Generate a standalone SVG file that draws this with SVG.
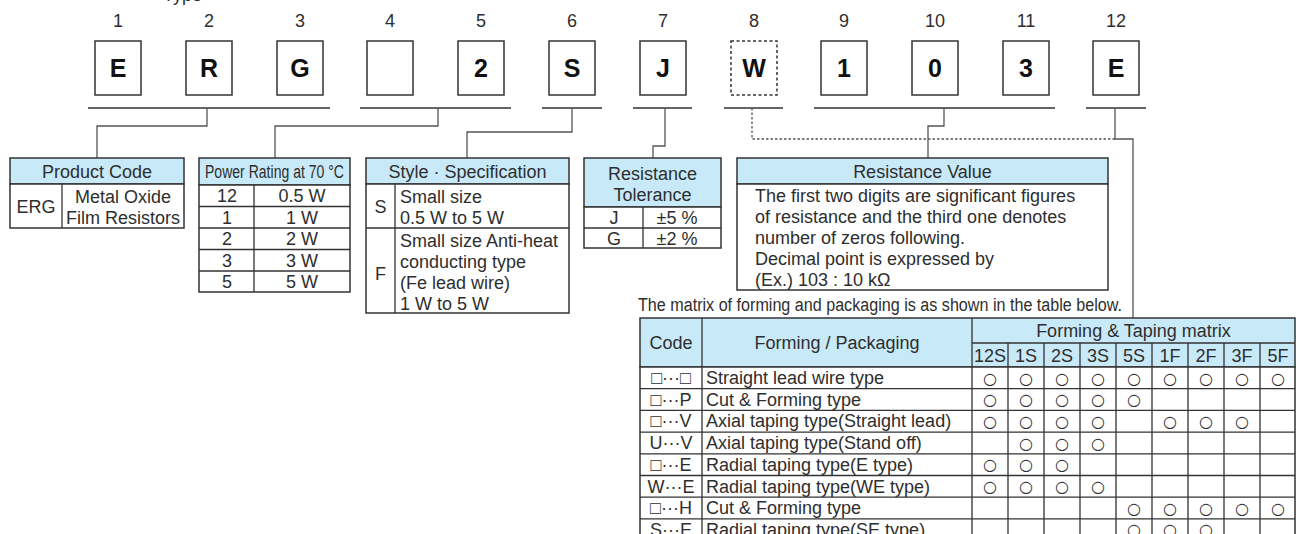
<svg xmlns="http://www.w3.org/2000/svg" width="1296" height="534" viewBox="0 0 1296 534">
<style>
text{font-family:"Liberation Sans",Arial,sans-serif;font-size:18px;fill:#2e2e2e}
.num{text-anchor:middle}
.big{font-weight:bold;font-size:25px;fill:#111;text-anchor:middle}
.box{fill:#fff;stroke:#333;stroke-width:1.5}
.dash{fill:#fff;stroke:#333;stroke-width:1.5;stroke-dasharray:3 2.5}
.hdr{fill:#c8e9f8;stroke:#333;stroke-width:1.5}
.cell{fill:#fff;stroke:#333;stroke-width:1.5}
.ln{fill:none;stroke:#333;stroke-width:1.3}
.con{fill:none;stroke:#555;stroke-width:1.3}
.cond{fill:none;stroke:#555;stroke-width:1.3;stroke-dasharray:2.5 2}
.c{text-anchor:middle}
#marks text{font-family:"DejaVu Sans",sans-serif;font-size:16px;text-anchor:middle}
</style>
<text x="163" y="1">Type</text>
<g id="digits">
<text class="num" x="118" y="27">1</text>
<text class="num" x="209" y="27">2</text>
<text class="num" x="300" y="27">3</text>
<text class="num" x="390" y="27">4</text>
<text class="num" x="481" y="27">5</text>
<text class="num" x="572" y="27">6</text>
<text class="num" x="663" y="27">7</text>
<text class="num" x="754" y="27">8</text>
<text class="num" x="844" y="27">9</text>
<text class="num" x="935" y="27">10</text>
<text class="num" x="1026" y="27">11</text>
<text class="num" x="1116" y="27">12</text>
</g>
<g id="char1"><rect class="box" x="95" y="41" width="46" height="54"/><text class="big" x="118" y="77">E</text></g>
<g id="char2"><rect class="box" x="186" y="41" width="46" height="54"/><text class="big" x="209" y="77">R</text></g>
<g id="char3"><rect class="box" x="277" y="41" width="46" height="54"/><text class="big" x="300" y="77">G</text></g>
<g id="char4"><rect class="box" x="367" y="41" width="46" height="54"/></g>
<g id="char5"><rect class="box" x="458" y="41" width="46" height="54"/><text class="big" x="481" y="77">2</text></g>
<g id="char6"><rect class="box" x="549" y="41" width="46" height="54"/><text class="big" x="572" y="77">S</text></g>
<g id="char7"><rect class="box" x="640" y="41" width="46" height="54"/><text class="big" x="663" y="77">J</text></g>
<g id="char8"><rect class="dash" x="731" y="41" width="46" height="54"/><text class="big" x="754" y="77">W</text></g>
<g id="char9"><rect class="box" x="821" y="41" width="46" height="54"/><text class="big" x="844" y="77">1</text></g>
<g id="char10"><rect class="box" x="912" y="41" width="46" height="54"/><text class="big" x="935" y="77">0</text></g>
<g id="char11"><rect class="box" x="1003" y="41" width="46" height="54"/><text class="big" x="1026" y="77">3</text></g>
<g id="char12"><rect class="box" x="1093" y="41" width="46" height="54"/><text class="big" x="1116" y="77">E</text></g>

<g id="connectors">
<path class="ln" d="M88,108H330M360,108H511M542,108H602M633,108H692M724,108H783M814,108H1055M1086,108H1146"/>
<path class="con" d="M207,108V126H97V158"/>
<path class="con" d="M438,108V126H275V158"/>
<path class="con" d="M572,108V132H467V158"/>
<path class="con" d="M665,108V146H653V158"/>
<path class="cond" d="M752,108V139H1115"/>
<path class="con" d="M944,108V126H928V158"/>
<path class="con" d="M1115,108V139H1133V318"/>
</g>

<g id="product-code">
<rect class="hdr" x="10" y="158" width="174" height="26"/>
<rect class="cell" x="10" y="184" width="174" height="44"/>
<path class="ln" d="M62,184V228"/>
<text class="c" x="97" y="177.5">Product Code</text>
<text class="c" x="36" y="212.5">ERG</text>
<text class="c" x="123" y="202.5">Metal Oxide</text>
<text class="c" x="123" y="223.5">Film Resistors</text>
</g>

<g id="power-rating">
<rect class="hdr" x="199" y="158" width="151" height="27"/>
<rect class="cell" x="199" y="185" width="151" height="107"/>
<path class="ln" d="M254,185V292M199,206.5H350M199,228H350M199,249.5H350M199,271H350"/>
<text x="205" y="178" textLength="139" lengthAdjust="spacingAndGlyphs">Power Rating at 70 °C</text>
<text class="c" x="227" y="202">12</text><text class="c" x="302" y="202">0.5 W</text>
<text class="c" x="227" y="223.5">1</text><text class="c" x="302" y="223.5">1 W</text>
<text class="c" x="227" y="245">2</text><text class="c" x="302" y="245">2 W</text>
<text class="c" x="227" y="266.5">3</text><text class="c" x="302" y="266.5">3 W</text>
<text class="c" x="227" y="288">5</text><text class="c" x="302" y="288">5 W</text>
</g>

<g id="style-spec">
<rect class="hdr" x="366" y="158" width="203" height="26"/>
<rect class="cell" x="366" y="184" width="203" height="129"/>
<path class="ln" d="M395,184V313M366,228H569"/>
<text class="c" x="467.5" y="177.5">Style · Specification</text>
<text class="c" x="380.5" y="212.5">S</text>
<text x="400" y="203">Small size</text>
<text x="400" y="224">0.5 W to 5 W</text>
<text class="c" x="380.5" y="279.5">F</text>
<text x="400" y="246.5">Small size Anti-heat</text>
<text x="400" y="267.5">conducting type</text>
<text x="400" y="289">(Fe lead wire)</text>
<text x="400" y="309.5">1 W to 5 W</text>
</g>

<g id="tolerance">
<rect class="hdr" x="584" y="158" width="137" height="49"/>
<rect class="cell" x="584" y="207" width="137" height="41"/>
<path class="ln" d="M643,207V248M584,228H721"/>
<text class="c" x="652.5" y="179.5">Resistance</text>
<text class="c" x="652.5" y="200.5">Tolerance</text>
<text class="c" x="614" y="224">J</text><text class="c" x="677" y="224">±5 %</text>
<text class="c" x="614" y="244.5">G</text><text class="c" x="677" y="244.5">±2 %</text>
</g>

<g id="resistance-value">
<rect class="hdr" x="737" y="158" width="371" height="26"/>
<rect class="cell" x="737" y="184" width="371" height="106"/>
<text class="c" x="922.5" y="177.5">Resistance Value</text>
<text x="755" y="201.5">The first two digits are significant figures</text>
<text x="755" y="222.5">of resistance and the third one denotes</text>
<text x="755" y="243.5">number of zeros following.</text>
<text x="755" y="265">Decimal point is expressed by</text>
<text x="755" y="286">(Ex.) 103 : 10 kΩ</text>
</g>

<g id="matrix-note">
<text x="638" y="311" font-size="17" textLength="484" lengthAdjust="spacingAndGlyphs">The matrix of forming and packaging is as shown in the table below.</text>
</g>

<g id="matrix-table">
<rect class="hdr" x="640" y="318" width="655" height="49"/>
<rect class="cell" x="640" y="367" width="655" height="180"/>
<path class="ln" d="M702,318V547M972,318V547M972,343H1295"/>
<path class="ln" d="M1008,343V547M1044,343V547M1080,343V547M1116,343V547M1152,343V547M1188,343V547M1224,343V547M1260,343V547"/>
<path class="ln" d="M640,388.7H1295M640,410.4H1295M640,432.1H1295M640,453.8H1295M640,475.5H1295M640,497.2H1295M640,518.9H1295"/>
<text class="c" x="671" y="348.5">Code</text>
<text class="c" x="837" y="348.5">Forming / Packaging</text>
<text class="c" x="1133.5" y="337">Forming &amp; Taping matrix</text>
<text class="c" x="990" y="361.5">12S</text><text class="c" x="1026" y="361.5">1S</text><text class="c" x="1062" y="361.5">2S</text><text class="c" x="1098" y="361.5">3S</text><text class="c" x="1134" y="361.5">5S</text><text class="c" x="1170" y="361.5">1F</text><text class="c" x="1206" y="361.5">2F</text><text class="c" x="1242" y="361.5">3F</text><text class="c" x="1278" y="361.5">5F</text>
<text class="c" x="671" y="384">□···□</text><text x="706" y="384">Straight lead wire type</text>
<text class="c" x="671" y="405.7">□···P</text><text x="706" y="405.7">Cut &amp; Forming type</text>
<text class="c" x="671" y="427.4">□···V</text><text x="706" y="427.4">Axial taping type(Straight lead)</text>
<text class="c" x="671" y="449.1">U···V</text><text x="706" y="449.1">Axial taping type(Stand off)</text>
<text class="c" x="671" y="470.8">□···E</text><text x="706" y="470.8">Radial taping type(E type)</text>
<text class="c" x="671" y="492.5">W···E</text><text x="706" y="492.5">Radial taping type(WE type)</text>
<text class="c" x="671" y="514.2">□···H</text><text x="706" y="514.2">Cut &amp; Forming type</text>
<text class="c" x="671" y="535.9">S···E</text><text x="706" y="535.9">Radial taping type(SE type)</text>
<g id="marks">
<text x="990" y="383.5">○</text><text x="1026" y="383.5">○</text><text x="1062" y="383.5">○</text><text x="1098" y="383.5">○</text><text x="1134" y="383.5">○</text><text x="1170" y="383.5">○</text><text x="1206" y="383.5">○</text><text x="1242" y="383.5">○</text><text x="1278" y="383.5">○</text>
<text x="990" y="405.2">○</text><text x="1026" y="405.2">○</text><text x="1062" y="405.2">○</text><text x="1098" y="405.2">○</text><text x="1134" y="405.2">○</text>
<text x="990" y="426.9">○</text><text x="1026" y="426.9">○</text><text x="1062" y="426.9">○</text><text x="1098" y="426.9">○</text><text x="1170" y="426.9">○</text><text x="1206" y="426.9">○</text><text x="1242" y="426.9">○</text>
<text x="1026" y="448.6">○</text><text x="1062" y="448.6">○</text><text x="1098" y="448.6">○</text>
<text x="990" y="470.3">○</text><text x="1026" y="470.3">○</text><text x="1062" y="470.3">○</text>
<text x="990" y="492">○</text><text x="1026" y="492">○</text><text x="1062" y="492">○</text><text x="1098" y="492">○</text>
<text x="1134" y="513.7">○</text><text x="1170" y="513.7">○</text><text x="1206" y="513.7">○</text><text x="1242" y="513.7">○</text><text x="1278" y="513.7">○</text>
<text x="1134" y="535.4">○</text><text x="1170" y="535.4">○</text><text x="1206" y="535.4">○</text>
</g>
</g>
</svg>
